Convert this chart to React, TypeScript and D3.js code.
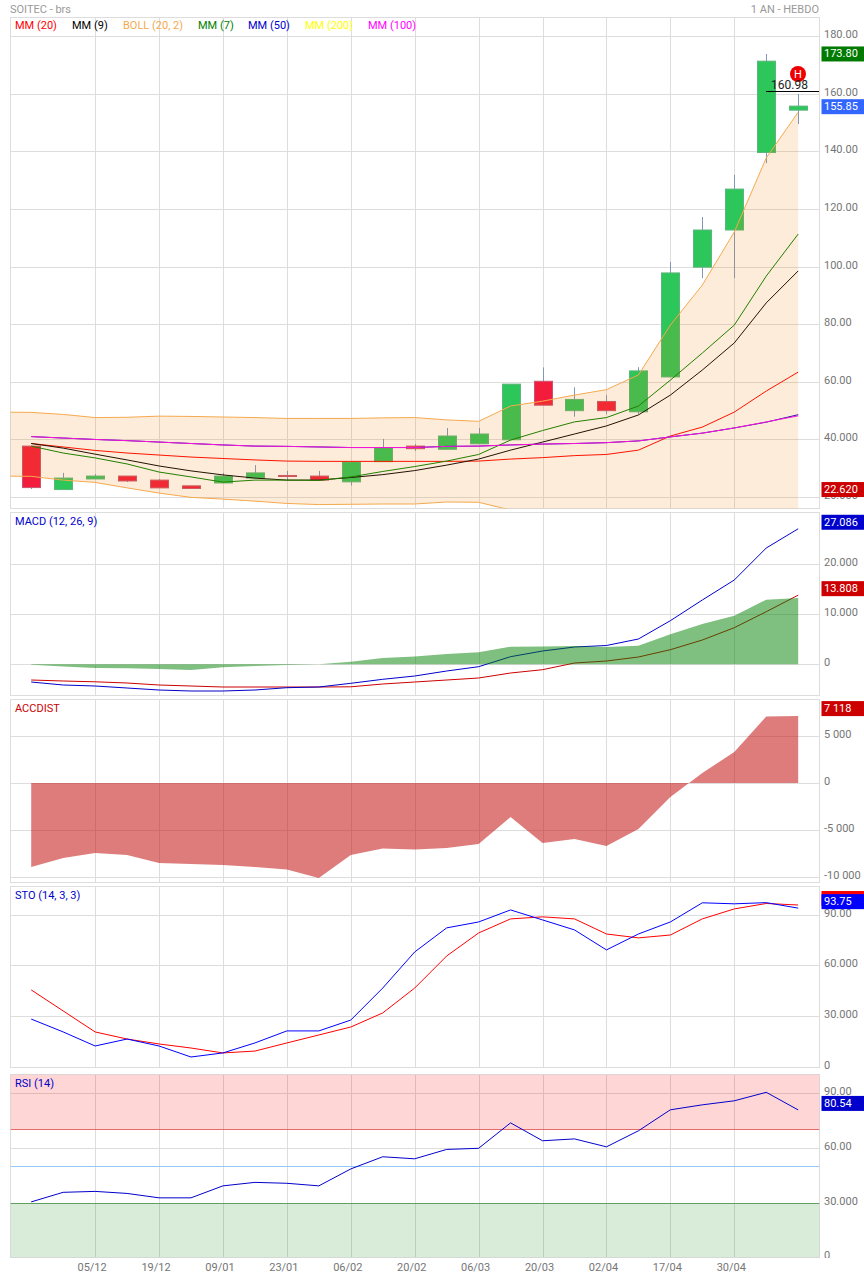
import React from "react";
import * as d3 from "d3";

const dates = ["05/12", "19/12", "09/01", "23/01", "06/02", "20/02", "06/03", "20/03", "02/04", "17/04", "30/04"];
const dateIdx = [2, 4, 6, 8, 10, 12, 14, 16, 18, 20, 22];

const opens = [37.7, 22.62, 26.3, 27.3, 25.9, 23.9, 24.9, 26.6, 27.5, 27.3, 25.3, 32.3, 37.7, 36.6, 38.5, 39.9, 60.2, 50.0, 53.2, 49.6, 61.7, 99.8, 112.7, 139.6, 154.3];
const closes = [23.3, 26.6, 27.3, 25.6, 23.2, 23.0, 27.3, 28.4, 27.4, 25.9, 32.2, 37.1, 36.8, 41.2, 41.9, 59.2, 51.9, 53.9, 50.0, 63.8, 97.8, 112.7, 126.9, 171.3, 155.7];
const highs = [37.7, 28.4, 28.0, 27.3, 26.3, 23.9, 28.4, 31.1, 29.1, 29.1, 32.2, 40.2, 38.4, 44.0, 44.0, 59.2, 65.0, 58.1, 55.4, 65.1, 101.6, 117.2, 131.8, 173.8, 159.9];
const lows = [22.8, 22.62, 26.3, 25.2, 23.2, 23.0, 24.9, 26.6, 25.9, 25.9, 24.0, 32.3, 36.0, 36.6, 38.5, 39.9, 51.9, 47.9, 48.8, 48.8, 61.7, 96.0, 96.0, 135.9, 149.5];

// The Bollinger band starts one period before the first candle; it is clipped by the panel.
const bollUpper = [49.5, 49.4, 48.7, 47.6, 47.7, 48.1, 48.0, 47.8, 47.6, 47.3, 47.3, 47.3, 47.5, 47.6, 46.8, 46.3, 51.6, 53.3, 55.4, 57.3, 62.4, 79.7, 93.6, 112.0, 137.7, 153.6];
const bollLower = [27.3, 27.2, 25.9, 25.1, 23.2, 21.4, 19.9, 19.3, 18.6, 17.8, 17.4, 17.5, 17.6, 17.6, 18.3, 18.2, 15.5, 13.0, 12.0, 11.0, 10.0, 9.0, 8.0, 8.0, 8.0, 10.0];

const mm20 = [38.6, 37.4, 36.2, 35.3, 34.6, 33.9, 33.4, 32.9, 32.5, 32.4, 32.4, 32.4, 32.4, 32.4, 32.5, 33.2, 33.7, 34.4, 34.8, 36.3, 41.2, 44.3, 49.5, 56.8, 63.4];
const mm9 = [38.6, 37.0, 34.9, 32.9, 30.8, 29.1, 27.7, 26.6, 25.9, 25.9, 26.8, 27.8, 29.2, 31.1, 33.2, 36.3, 39.1, 41.9, 44.7, 48.5, 55.4, 64.1, 73.5, 87.4, 98.5];
const mm7 = [37.7, 35.3, 33.6, 31.5, 28.7, 27.0, 25.2, 25.9, 25.9, 25.8, 27.0, 28.9, 30.6, 32.5, 34.8, 39.8, 43.1, 46.1, 47.6, 51.6, 60.6, 70.0, 79.7, 96.7, 111.3];
const mm50 = [41.0, 40.5, 40.0, 39.6, 39.1, 38.6, 38.1, 37.7, 37.6, 37.4, 37.2, 37.2, 37.2, 37.6, 37.7, 38.1, 38.4, 38.6, 38.9, 39.5, 40.9, 42.2, 44.0, 46.0, 48.6];
const mm100 = [41.0, 40.5, 40.0, 39.6, 39.1, 38.6, 38.1, 37.7, 37.6, 37.4, 37.2, 37.2, 37.2, 37.6, 37.7, 38.1, 38.4, 38.6, 38.9, 39.5, 40.9, 42.2, 44.0, 46.1, 48.2];

const macdLine = [-3.56, -4.16, -4.36, -4.76, -5.16, -5.36, -5.36, -5.16, -4.7, -4.56, -3.82, -3.02, -2.36, -1.36, -0.5, 1.5, 2.64, 3.44, 3.74, 5.04, 8.7, 12.84, 16.84, 23.24, 27.086];
const macdSignal = [-3.16, -3.36, -3.52, -3.76, -4.16, -4.36, -4.56, -4.56, -4.56, -4.56, -4.52, -3.96, -3.56, -3.16, -2.76, -1.76, -1.1, 0.24, 0.64, 1.44, 2.9, 4.84, 7.3, 10.5, 13.808];
const macdHist = [-0.1, -0.46, -0.76, -0.82, -0.96, -1.16, -0.62, -0.36, -0.16, -0.02, 0.5, 1.24, 1.54, 2.04, 2.38, 3.5, 3.54, 3.64, 3.44, 3.7, 5.98, 8.04, 9.7, 12.9, 13.24];

const accdist = [-8936, -7979, -7447, -7660, -8511, -8617, -8723, -8936, -9202, -10106, -7660, -6968, -7074, -6915, -6489, -3617, -6383, -5957, -6702, -4894, -1489, 1064, 3298, 7074, 7118];

const stoK = [28.3, 20.7, 12.4, 16.5, 12.4, 5.9, 8.3, 14.2, 21.3, 21.3, 27.7, 46.6, 67.9, 82.1, 85.6, 92.7, 86.8, 80.9, 69.1, 78.5, 85.6, 96.9, 96.3, 97.0, 93.75];
const stoD = [45.5, 33.1, 20.7, 16.5, 13.6, 11.2, 8.3, 9.4, 14.2, 18.9, 23.6, 31.9, 46.6, 65.5, 79.1, 87.4, 88.6, 87.4, 78.5, 76.2, 77.9, 87.4, 93.3, 96.5, 95.6];

const rsi = [30.6, 35.8, 36.3, 35.2, 32.8, 32.8, 39.3, 41.2, 40.7, 39.3, 48.5, 55.1, 54.0, 59.1, 59.7, 73.5, 63.8, 64.8, 60.5, 69.2, 80.6, 83.3, 85.5, 90.1, 80.54];

const priceTicks = [180, 160, 140, 120, 100, 80, 60, 40, 20];
const priceTickLabels = ["180.00", "160.00", "140.00", "120.00", "100.00", "80.00", "60.00", "40.000", "20.000"];
const macdTicks = [20, 10, 0];
const macdTickLabels = ["20.000", "10.000", "0"];
const accTicks = [5000, 0, -5000, -10000];
const accTickLabels = ["5 000", "0", "-5 000", "-10 000"];
const stoTicks = [90, 60, 30, 0];
const stoTickLabels = ["90.00", "60.000", "30.000", "0"];
const rsiTicks = [90, 60, 30, 0];
const rsiTickLabels = ["90.00", "60.00", "30.000", "0"];

const legendItems = ["MM (20)", "MM (9)", "BOLL (20, 2)", "MM (7)", "MM (50)", "MM (200)", "MM (100)"];
const legendColors = ["#ff0000", "#000000", "#f5a94e", "#008000", "#0000cc", "#ffff00", "#ff00ff"];
const legendX = [15, 72, 123, 198, 248, 305, 368];

const FONT = "Roboto, sans-serif";
const FS = 11;
const L = 10.5, R = 819.5;
const idx = d3.range(25);

const x = d3.scaleLinear().domain([0, 24]).range([31.2, 798.2]);
const yPrice = d3.scaleLinear().domain([20, 180]).range([497.1, 36.1]);
const yMacd = d3.scaleLinear().domain([0, 20]).range([664.2, 564.2]);
const yAcc = d3.scaleLinear().domain([0, 5000]).range([783, 736]);
const ySto = d3.scaleLinear().domain([0, 90]).range([1067, 914.5]);
const yRsi = d3.scaleLinear().domain([30, 90]).range([1203, 1092.5]);

const px = (v: number) => Math.round(v) + 0.5;

function linePath(vals: number[], y: (v: number) => number) {
  return d3.line<number>().x((_, i) => x(i)).y((d) => y(d))(vals) || "";
}
function areaPath(vals: number[], y: (v: number) => number, base: number) {
  return d3.area<number>().x((_, i) => x(i)).y0(y(base)).y1((d) => y(d))(vals) || "";
}

function Panel({ id, top, bottom, y, ticks, labels }: any) {
  return (
    <g>
      <clipPath id={id}>
        <rect x={L} y={top} width={R - L} height={bottom - top} />
      </clipPath>
      {ticks.map((t: number) => (
        <line key={t} x1={L} x2={R} y1={px(y(t))} y2={px(y(t))} stroke="#dddddd" />
      ))}
      {dateIdx.map((d) => (
        <line key={d} x1={px(x(d))} x2={px(x(d))} y1={top} y2={bottom} stroke="#dddddd" />
      ))}
      <rect x={L} y={top} width={R - L} height={bottom - top} fill="none" stroke="#dddddd" />
      {ticks.map((t: number, i: number) => (
        <text key={t} x={824} y={y(t) - 1.5} fontSize={FS} fill="#757575" dominantBaseline="central">
          {labels[i]}
        </text>
      ))}
    </g>
  );
}

function Tag({ y, fill, text }: { y: number; fill: string; text: string }) {
  return (
    <g>
      <rect x={821.5} y={y - 7.5} width={42.5} height={15} fill={fill} />
      <text x={824} y={y} fontSize={FS} fill="#ffffff" dominantBaseline="central">
        {text}
      </text>
    </g>
  );
}

function Line({ vals, y, color, width = 1 }: any) {
  return <path d={linePath(vals, y)} fill="none" stroke={color} strokeWidth={width} />;
}

export default function App() {
  const bandX = (i: number) => x(i - 1);
  const bandArea =
    d3
      .area<number>()
      .x((_, i) => bandX(i))
      .y0((_, i) => yPrice(bollLower[i]))
      .y1((d) => yPrice(d))(bollUpper) || "";
  const bandLine = (vals: number[]) =>
    d3
      .line<number>()
      .x((_, i) => bandX(i))
      .y((d) => yPrice(d))(vals) || "";

  return (
    <svg
      width={864}
      height={1278}
      style={{ position: "absolute", left: 0, top: 0, background: "#fff" }}
      fontFamily={FONT}
    >
      <text x={10} y={9} fontSize={FS} fill="#999999" dominantBaseline="central">SOITEC - brs</text>
      <text x={819} y={9} fontSize={FS} fill="#999999" textAnchor="end" dominantBaseline="central">1 AN - HEBDO</text>

      <Panel id="c1" top={17.5} bottom={508.5} y={yPrice} ticks={priceTicks} labels={priceTickLabels} />
      <g clipPath="url(#c1)">
        {idx.map((i) => {
          const up = closes[i] >= opens[i];
          const top = yPrice(Math.max(opens[i], closes[i]));
          const bot = yPrice(Math.min(opens[i], closes[i]));
          const cx = px(x(i));
          return (
            <g key={i}>
              <line x1={cx} x2={cx} y1={yPrice(highs[i])} y2={yPrice(lows[i])} stroke="#7f98b8" />
              <rect
                x={cx - 9}
                y={top}
                width={18}
                height={Math.max(bot - top, 1)}
                fill={up ? "#2dc65a" : "#f41c3c"}
                stroke={up ? "#5cb57a" : "#c85470"}
              />
            </g>
          );
        })}
        <Line vals={mm20} y={yPrice} color="#ff0000" />
        <Line vals={mm9} y={yPrice} color="#000000" />
        <Line vals={mm7} y={yPrice} color="#008000" />
        <Line vals={mm50} y={yPrice} color="#0000cc" />
        <Line vals={mm100} y={yPrice} color="#ff00ff" />
        <path d={bandArea} fill="rgba(235,130,0,0.15)" />
        <path d={bandLine(bollUpper)} fill="none" stroke="#f5a94e" />
        <path d={bandLine(bollLower)} fill="none" stroke="#f5a94e" />
      </g>
      {legendItems.map((t, i) => (
        <text key={t} x={legendX[i]} y={25} fontSize={FS} fill={legendColors[i]} dominantBaseline="central">{t}</text>
      ))}
      <circle cx={798} cy={74} r={8} fill="#ee0000" />
      <text x={798} y={74.5} fontSize={11} fill="#ffffff" textAnchor="middle" dominantBaseline="central">H</text>
      <text x={789.5} y={85} fontSize={12} fill="#222222" textAnchor="middle" dominantBaseline="central">160.98</text>
      <line x1={766} x2={819} y1={px(yPrice(160.98))} y2={px(yPrice(160.98))} stroke="#000000" />
      <Tag y={yPrice(173.8)} fill="#007a00" text="173.80" />
      <Tag y={yPrice(155.85) + 1} fill="#3366ff" text="155.85" />
      <Tag y={yPrice(22.62)} fill="#cc0000" text="22.620" />

      <Panel id="c2" top={512.5} bottom={695.5} y={yMacd} ticks={macdTicks} labels={macdTickLabels} />
      <g clipPath="url(#c2)">
        <Line vals={macdSignal} y={yMacd} color="#cc0000" />
        <Line vals={macdLine} y={yMacd} color="#0000cc" />
        <path d={areaPath(macdHist, yMacd, 0)} fill="rgba(0,128,0,0.5)" />
      </g>
      <text x={15} y={521} fontSize={FS} fill="#0000cc" dominantBaseline="central">MACD (12, 26, 9)</text>
      <Tag y={yMacd(27.086) - 6.5} fill="#0000cc" text="27.086" />
      <Tag y={yMacd(13.808) - 6.5} fill="#cc0000" text="13.808" />

      <Panel id="c3" top={699.5} bottom={882.5} y={yAcc} ticks={accTicks} labels={accTickLabels} />
      <g clipPath="url(#c3)">
        <path d={areaPath(accdist, yAcc, 0)} fill="rgba(195,15,15,0.55)" />
      </g>
      <text x={15} y={708} fontSize={FS} fill="#cc0000" dominantBaseline="central">ACCDIST</text>
      <Tag y={yAcc(7118) - 7.5} fill="#cc0000" text="7 118" />

      <Panel id="c4" top={886.5} bottom={1067.5} y={ySto} ticks={stoTicks} labels={stoTickLabels} />
      <g clipPath="url(#c4)">
        <Line vals={stoD} y={ySto} color="#ff0000" />
        <Line vals={stoK} y={ySto} color="#0000ff" />
      </g>
      <text x={15} y={895} fontSize={FS} fill="#0000cc" dominantBaseline="central">STO (14, 3, 3)</text>
      <Tag y={ySto(95.6) - 6.5} fill="#ff0000" text="" />
      <Tag y={ySto(93.75) - 6.5} fill="#0000ff" text="93.75" />

      <Panel id="c5" top={1074.5} bottom={1257.5} y={yRsi} ticks={rsiTicks.slice(0, 3)} labels={rsiTickLabels} />
      <text x={824} y={1255} fontSize={FS} fill="#757575" dominantBaseline="central">{rsiTickLabels[3]}</text>
      <rect x={821} y={1258} width={43} height={20} fill="#ffffff" />
      <g clipPath="url(#c5)">
        <rect x={L} y={1074.5} width={R - L} height={yRsi(70) - 1074.5} fill="rgba(255,0,0,0.16)" />
        <rect x={L} y={yRsi(30)} width={R - L} height={1257.5 - yRsi(30)} fill="rgba(0,128,0,0.15)" />
        <line x1={L} x2={R} y1={px(yRsi(70))} y2={px(yRsi(70))} stroke="#e66a6a" />
        <line x1={L} x2={R} y1={px(yRsi(50))} y2={px(yRsi(50))} stroke="#90c8ff" />
        <line x1={L} x2={R} y1={px(yRsi(30))} y2={px(yRsi(30))} stroke="#5f9f5f" />
        <Line vals={rsi} y={yRsi} color="#0000cc" />
      </g>
      <text x={15} y={1083} fontSize={FS} fill="#0000cc" dominantBaseline="central">RSI (14)</text>
      <Tag y={yRsi(80.54) - 6.5} fill="#0000cc" text="80.54" />

      {dates.map((d, i) => (
        <text key={d} x={x(dateIdx[i]) - 3} y={1267} fontSize={FS} fill="#757575" textAnchor="middle" dominantBaseline="central">{d}</text>
      ))}
    </svg>
  );
}
